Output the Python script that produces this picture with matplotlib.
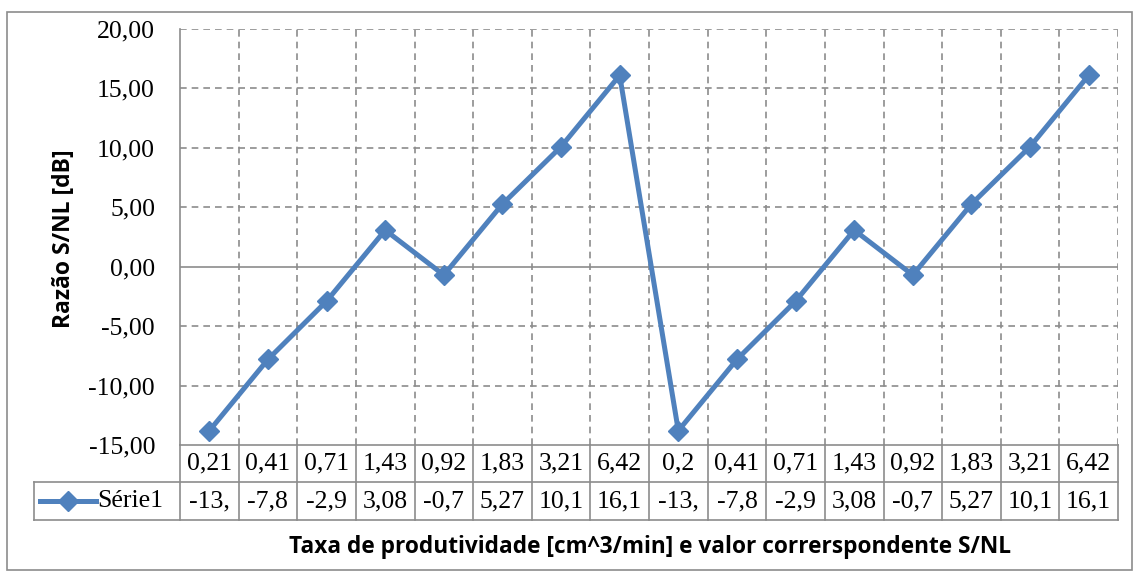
import matplotlib.pyplot as plt
from matplotlib.patches import Rectangle
from matplotlib.lines import Line2D

# dados
taxa = ['0,21', '0,41', '0,71', '1,43', '0,92', '1,83', '3,21', '6,42',
        '0,2', '0,41', '0,71', '1,43', '0,92', '1,83', '3,21', '6,42']
sn = [-13.8, -7.8, -2.9, 3.08, -0.7, 5.27, 10.1, 16.1,
      -13.8, -7.8, -2.9, 3.08, -0.7, 5.27, 10.1, 16.1]
sn_txt = ['-13,', '-7,8', '-2,9', '3,08', '-0,7', '5,27', '10,1', '16,1',
          '-13,', '-7,8', '-2,9', '3,08', '-0,7', '5,27', '10,1', '16,1']
serie = 'Série1'
yticks = [-15, -10, -5, 0, 5, 10, 15, 20]

azul = '#4F81BD'
cinza = '#8C8C8C'
serif = ['Liberation Serif', 'Times New Roman', 'DejaVu Serif']
sans = ['Open Sans', 'DejaVu Sans']
fs = 18.5

W, H = 1138, 576
fig = plt.figure(figsize=(W / 100, H / 100), dpi=100)

def fx(px):
    return px / W

def fy(py):
    return 1 - py / H

# borda externa
fig.patches.append(Rectangle((fx(7), fy(570)), fx(1132) - fx(7), fy(12) - fy(570),
                             transform=fig.transFigure, fill=False,
                             edgecolor=cinza, lw=1.2))

x0, x1, y0, y1 = 180, 1118, 29, 445
ax = fig.add_axes([fx(x0), fy(y1), fx(x1) - fx(x0), fy(y0) - fy(y1)])
n = len(sn)
xs = list(range(n))
ax.set_xlim(-0.5, n - 0.5)
ax.set_ylim(-15, 20)
ax.set_yticks(yticks)
ax.set_yticklabels([f'{v:.2f}'.replace('.', ',') for v in yticks],
                   family=serif, fontsize=fs)
ax.tick_params(axis='y', length=0, pad=18)
ax.set_xticks([])
for s in ['top', 'right', 'bottom']:
    ax.spines[s].set_visible(False)
ax.spines['left'].set_color(cinza)
ax.spines['left'].set_linewidth(1.2)

# grade tracejada
for v in yticks[1:]:
    if v != 0:
        ax.axhline(v, color=cinza, lw=1.2, ls=(0, (4, 3)), zorder=1)
for i in range(n):
    ax.axvline(i + 0.5, color=cinza, lw=1.2, ls=(0, (4, 3)), zorder=1)
ax.axhline(0, color=cinza, lw=1.2, zorder=1)

ax.plot(xs, sn, color=azul, lw=3.6, marker='D', markersize=10, zorder=3)

# tabela de dados
r0, r1, r2 = 445, 482, 520
kx = 34
cw = (x1 - x0) / n
tr = fig.transFigure
lk = dict(color=cinza, lw=1.2, transform=tr)
fig.add_artist(Line2D([fx(x0), fx(x1)], [fy(r0), fy(r0)], **lk))
fig.add_artist(Line2D([fx(kx), fx(x1)], [fy(r1), fy(r1)], **lk))
fig.add_artist(Line2D([fx(kx), fx(x1)], [fy(r2), fy(r2)], **lk))
fig.add_artist(Line2D([fx(kx), fx(kx)], [fy(r1), fy(r2)], **lk))
for i in range(n + 1):
    xx = x0 + i * cw
    fig.add_artist(Line2D([fx(xx), fx(xx)], [fy(r0), fy(r2)], **lk))
for i in range(n):
    xc = x0 + (i + 0.5) * cw
    fig.text(fx(xc), fy((r0 + r1) / 2), taxa[i], ha='center', va='center',
             family=serif, fontsize=fs)
    fig.text(fx(xc), fy((r1 + r2) / 2), sn_txt[i], ha='center', va='center',
             family=serif, fontsize=fs)

# chave da legenda
ym = fy((r1 + r2) / 2)
fig.add_artist(Line2D([fx(40), fx(96)], [ym, ym], color=azul, lw=3.6,
                      transform=tr))
fig.add_artist(Line2D([fx(68)], [ym], color=azul, marker='D', markersize=10,
                      transform=tr))
fig.text(fx(97), fy((r1 + r2) / 2), serie, ha='left', va='center',
         family=serif, fontsize=fs)

fig.text(fx(650), fy(547), 'Taxa de produtividade [cm^3/min] e valor correrspondente S/NL',
         ha='center', va='center', family=sans, fontweight='bold', fontsize=16.3)
fig.text(fx(64), fy(239), 'Razão S/NL [dB]', ha='center', va='center',
         rotation=90, family=sans, fontweight='bold', fontsize=16.5)

fig.savefig('out.png', dpi=100)
